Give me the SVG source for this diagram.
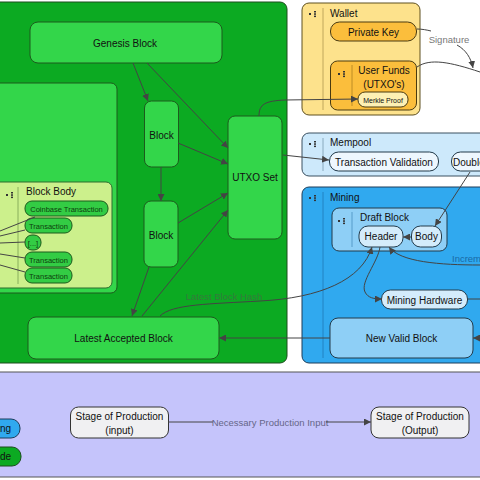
<svg xmlns="http://www.w3.org/2000/svg" width="480" height="480" viewBox="0 0 480 480">
<defs>
<style>
text{font-family:"Liberation Sans",Arial,sans-serif;font-size:10px;fill:#111;}
.c{text-anchor:middle;}
.sm{font-size:7.5px;fill:#0d3d0d;}
.gn{fill:#33d64a;stroke:#1d5a1d;stroke-width:1;}
.it{fill:#33cc44;stroke:#1d5a1d;stroke-width:1;}
.bl{fill:#d4ecfb;stroke:#223a4a;stroke-width:1;}
.bm{fill:#8ecff6;stroke:#223a4a;stroke-width:1;}
.cn{fill:none;stroke:#444;stroke-width:1;}
.sep{stroke-width:0.8;}
.ic{fill:#333;}
</style>
<marker id="ah" markerWidth="7" markerHeight="7" refX="7" refY="3.5" orient="auto" markerUnits="userSpaceOnUse">
<path d="M0,0 L7,3.5 L0,7 z" fill="#444"/>
</marker>
<g id="icon"><rect x="0" y="2" width="2" height="2"/><rect x="5" y="0" width="2" height="1.5"/><rect x="5" y="2.3" width="2" height="1.5"/><rect x="5" y="4.6" width="2" height="1.5"/></g>
</defs>
<rect width="480" height="480" fill="#fff"/>

<g id="blockchain">
<rect x="-10" y="2" width="297" height="361" rx="7" fill="#0caa22" stroke="#1d4d1d"/>
</g>
<g id="chain-history">
<rect x="-10" y="83" width="127" height="210" rx="6" class="gn"/>
</g>
<g id="block-body">
<rect x="-10" y="182" width="122" height="106" rx="6" fill="#ccf08c" stroke="#2d6d2d"/>
<line x1="18" y1="187" x2="18" y2="284" stroke="#7aa050" class="sep"/>
<use href="#icon" x="6" y="192" class="ic"/>
<text x="26" y="195">Block Body</text>
</g>
<g id="tx-coinbase"><rect x="25" y="201" width="83" height="15" rx="7" class="it"/><text x="66.5" y="211.5" class="c sm">Coinbase Transaction</text></g>
<g id="tx-1"><rect x="25" y="218" width="47" height="15" rx="7" class="it"/><text x="48.5" y="228.5" class="c sm">Transaction</text></g>
<g id="tx-etc"><rect x="25" y="235" width="16" height="15" rx="7" class="it"/><text x="33" y="245.5" class="c sm">[...]</text></g>
<g id="tx-2"><rect x="25" y="252" width="47" height="15" rx="7" class="it"/><text x="48.5" y="262.5" class="c sm">Transaction</text></g>
<g id="tx-3"><rect x="25" y="268" width="47" height="15" rx="7" class="it"/><text x="48.5" y="278.5" class="c sm">Transaction</text></g>

<g id="genesis"><rect x="30" y="22" width="192" height="41" rx="8" class="gn"/><text x="125" y="46.5" class="c">Genesis Block</text></g>
<g id="block-1"><rect x="144.5" y="101" width="34" height="66" rx="7" class="gn"/><text x="161.5" y="138.5" class="c">Block</text></g>
<g id="block-2"><rect x="144" y="201" width="34" height="66" rx="7" class="gn"/><text x="161" y="238.5" class="c">Block</text></g>
<g id="utxo"><rect x="228" y="116" width="54" height="123" rx="7" class="gn"/><text x="255" y="180.5" class="c">UTXO Set</text></g>
<g id="latest"><rect x="28" y="317" width="191" height="42" rx="8" class="gn"/><text x="123.5" y="341.5" class="c">Latest Accepted Block</text></g>

<g id="wallet">
<rect x="302" y="3" width="118" height="112" rx="7" fill="#fde28c" stroke="#5f5020"/>
<line x1="323" y1="8" x2="323" y2="110" stroke="#b09a50" class="sep"/>
<use href="#icon" x="309" y="11" class="ic"/>
<text x="330" y="17">Wallet</text>
</g>
<g id="private-key"><rect x="330.5" y="22" width="86" height="19" rx="9" fill="#fbbe3c" stroke="#4a3a10"/><text x="373.5" y="35.5" class="c">Private Key</text></g>
<g id="user-funds">
<rect x="330.5" y="61" width="86" height="49" rx="7" fill="#fbbe3c" stroke="#4a3a10"/>
<line x1="352" y1="65" x2="352" y2="106" stroke="#b08020" class="sep"/>
<use href="#icon" x="338" y="71" class="ic"/>
<text x="384" y="74" class="c">User Funds</text>
<text x="384" y="87.5" class="c">(UTXO's)</text>
</g>
<g id="merkle"><rect x="358" y="92" width="50" height="15" rx="7" fill="#fdf0b4" stroke="#4a3a10"/><text x="383" y="102.5" class="c" style="font-size:7px">Merkle Proof</text></g>

<g id="mempool">
<rect x="302" y="133" width="190" height="43" rx="7" fill="#cde9fb" stroke="#3a5060"/>
<line x1="323" y1="138" x2="323" y2="171" stroke="#7a9ab0" class="sep"/>
<use href="#icon" x="309" y="141" class="ic"/>
<text x="330" y="146">Mempool</text>
</g>
<g id="tx-validation"><rect x="329.5" y="152" width="109" height="19" rx="9" fill="#eef7fe" stroke="#223a4a"/><text x="384" y="165.5" class="c">Transaction Validation</text></g>
<g id="double-spend"><rect x="451.5" y="152" width="60" height="19" rx="9" fill="#eef7fe" stroke="#223a4a"/><text x="453" y="165.5">Double</text></g>

<g id="mining">
<rect x="302" y="187" width="190" height="176" rx="7" fill="#30a9ef" stroke="#1d3d5a"/>
<line x1="323" y1="192" x2="323" y2="358" stroke="#1f7ab8" class="sep"/>
<use href="#icon" x="309" y="195" class="ic"/>
<text x="330" y="201">Mining</text>
</g>
<g id="draft-block">
<rect x="332" y="208" width="115" height="43" rx="7" class="bm"/>
<line x1="352" y1="212" x2="352" y2="247" stroke="#4a90c0" class="sep"/>
<use href="#icon" x="338" y="218" class="ic"/>
<text x="360" y="221">Draft Block</text>
</g>
<g id="header"><rect x="359" y="226" width="44" height="21" rx="9" class="bl"/><text x="381" y="240" class="c">Header</text></g>
<g id="body"><rect x="411.5" y="226" width="30" height="21" rx="9" class="bl"/><text x="426.5" y="240" class="c">Body</text></g>
<g id="mining-hw"><rect x="381.5" y="290" width="86" height="19" rx="9" class="bl"/><text x="424.5" y="303.5" class="c">Mining Hardware</text></g>
<g id="new-valid"><rect x="330" y="318" width="143" height="40" rx="8" class="bm"/><text x="401.5" y="341.5" class="c">New Valid Block</text></g>

<g id="legend">
<rect x="-10" y="372" width="500" height="105" fill="#c5c4fb" stroke="#555"/>
</g>
<g id="legend-mining"><rect x="-20" y="419" width="40" height="19" rx="9" fill="#30a9ef" stroke="#1d3d5a"/><text x="0" y="432">ng</text></g>
<g id="legend-node"><rect x="-20" y="447" width="41" height="19" rx="9" fill="#0caa22" stroke="#1d4d1d"/><text x="0" y="460">de</text></g>
<g id="stage-input"><rect x="70.5" y="407" width="98" height="31" rx="8" fill="#f0f0f2" stroke="#333"/><text x="119.5" y="420" class="c">Stage of Production</text><text x="119.5" y="433.5" class="c">(input)</text></g>
<g id="stage-output"><rect x="371" y="407" width="98" height="31" rx="8" fill="#f0f0f2" stroke="#333"/><text x="420" y="420" class="c">Stage of Production</text><text x="420" y="433.5" class="c">(Output)</text></g>

<g id="connectors">
<path class="cn" d="M0,231 L35,217"/>
<path class="cn" d="M0,236 L25,230"/>
<path class="cn" d="M0,243 L25,242"/>
<path class="cn" d="M0,254 L25,258"/>
<path class="cn" d="M0,265 L25,272"/>
<path class="cn" d="M133,63 L148,101" marker-end="url(#ah)"/>
<path class="cn" d="M147,63 L228,148" marker-end="url(#ah)"/>
<path class="cn" d="M161,167 L161,201" marker-end="url(#ah)"/>
<path class="cn" d="M178,143 L228,164" marker-end="url(#ah)"/>
<path class="cn" d="M178,223 L228,193" marker-end="url(#ah)"/>
<path class="cn" d="M149,267 L132,316" marker-end="url(#ah)"/>
<path class="cn" d="M142,316 L228,210" marker-end="url(#ah)"/>
<path class="cn" d="M160,316 C172,304 210,304 260,301 C320,298 362,280 372,247" stroke="#2d6a2d" marker-end="url(#ah)"/>
<text x="224" y="300" class="c" style="fill:#357a3c;font-size:9.5px">Latest Block Hash</text>
<path class="cn" d="M330,338 L219,338" marker-end="url(#ah)"/>
<path class="cn" d="M259,116 C259,104 265,101 285,100 L358,99" marker-end="url(#ah)"/>
<path class="cn" d="M283,155 L329,160" marker-end="url(#ah)"/>
<path class="cn" d="M417,29 C422,29 427,30 431,31" stroke="#666"/>
<text x="449" y="43" class="c" style="fill:#777;font-size:9.5px">Signature</text>
<path class="cn" d="M457,45 C466,50 471,58 473,68" stroke="#444" marker-end="url(#ah)"/>
<path class="cn" d="M417,67 C430,58 450,62 480,72"/>
<path class="cn" d="M470,172 L435,226" marker-end="url(#ah)"/>
<path class="cn" d="M411,237 L403,237" marker-end="url(#ah)"/>
<path class="cn" d="M480,265 C440,265 400,262 389,247" stroke="#1d4d70" marker-end="url(#ah)"/>
<text x="452" y="262" style="fill:#1a6aa6;font-size:9.5px">Increm</text>
<path class="cn" d="M380,247 C378,262 360,282 365,292 C368,298 374,299 382,299" stroke="#1d3d5a" marker-end="url(#ah)"/>
<path class="cn" d="M468,299 L480,299" stroke="#1d3d5a"/>
<path class="cn" d="M480,338 L473,338" marker-end="url(#ah)"/>
<path class="cn" d="M168,422 L213,422" stroke="#556"/>
<text x="270" y="425.5" class="c" style="fill:#666688;font-size:9.5px">Necessary Production Input</text>
<path class="cn" d="M326,422 L371,422" stroke="#556" marker-end="url(#ah)"/>
</g>
</svg>
